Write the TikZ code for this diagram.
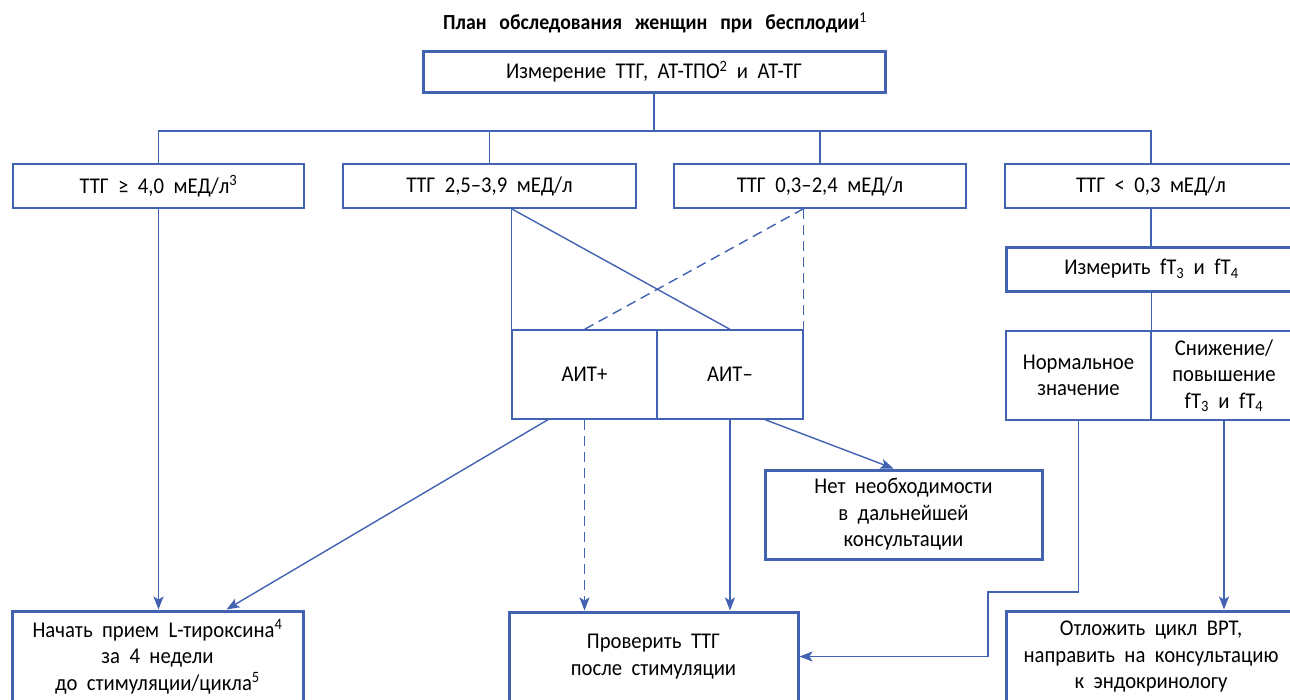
\documentclass[tikz,border=0pt]{standalone}
\usepackage{fontspec}
\setmainfont{Carlito}[FakeStretch=0.92]
\usetikzlibrary{arrows.meta,calc}
\definecolor{lc}{RGB}{66,98,178}
\newcommand{\bodyfont}{\fontsize{22.5}{26.5}\selectfont\spaceskip=0.42em plus 0.1em\relax}
\newcommand{\headfont}{\fontsize{21.5}{25}\selectfont\bfseries\spaceskip=0.6em plus 0.1em\relax}
\begin{document}
\begin{tikzpicture}[x=1pt,y=-1pt,
  every node/.style={font=\bodyfont, text=black, inner sep=0pt, align=center},
  thinbox/.style={draw=lc, line width=1.3pt},
  thickbox/.style={draw=lc, line width=3pt},
  conn/.style={draw=lc, line width=1.4pt},
  arr/.style={conn, -{Stealth[length=13pt,width=10pt,inset=3pt]}},
  dsh/.style={dash pattern=on 10pt off 6pt}]
\fill[white] (0,0) rectangle (1290,699);
\useasboundingbox (0,0) rectangle (1290,699);
\clip (0,0) rectangle (1290,699);

\node[font=\headfont] (title) at (655,23) {План обследования женщин при бесплодии\textsuperscript{\normalfont 1}};

\node[thickbox, minimum width=462pt, minimum height=41pt] (top) at (654,71.5) {Измерение ТТГ, АТ-ТПО\textsuperscript{2} и АТ-ТГ};

\node[thinbox, minimum width=291pt, minimum height=44pt] (b1) at (158.5,186) {ТТГ ≥ 4,0 мЕД/л\textsuperscript{3}};
\node[thinbox, minimum width=293pt, minimum height=44pt] (b2) at (489.5,186) {ТТГ 2,5–3,9 мЕД/л};
\node[thinbox, minimum width=292pt, minimum height=44pt] (b3) at (820,186) {ТТГ 0,3–2,4 мЕД/л};
\node[thinbox, minimum width=292pt, minimum height=44pt] (b4) at (1151,186) {ТТГ < 0,3 мЕД/л};

\node[thinbox, minimum width=145pt, minimum height=89pt] (aitp) at (584.5,374.5) {АИТ+};
\node[thinbox, minimum width=146pt, minimum height=89pt] (aitm) at (730,374.5) {АИТ–};

\node[thickbox, minimum width=291pt, minimum height=44pt] (meas) at (1151.5,269) {Измерить fT\textsubscript{3} и fT\textsubscript{4}};
\node[thinbox, minimum width=145pt, minimum height=89pt] (norm) at (1078.5,375.5) {Нормальное\\значение};
\node[thinbox, minimum width=146pt, minimum height=89pt] (chg) at (1224,375.5) {Снижение/\\повышение\\fT\textsubscript{3} и fT\textsubscript{4}};

\node[thickbox, minimum width=277pt, minimum height=89pt] (noneed) at (903.5,514.5) {Нет необходимости\\в дальнейшей\\консультации};

\node[thickbox, minimum width=291pt, minimum height=92pt] (start) at (157.5,657) {Начать прием L-тироксина\textsuperscript{4}\\за 4 недели\\до стимуляции/цикла\textsuperscript{5}};
\node[thickbox, minimum width=289pt, minimum height=89pt] (check) at (653.5,656.5) {Проверить ТТГ\\после стимуляции};
\node[thickbox, minimum width=290pt, minimum height=92pt] (delay) at (1151,657) {Отложить цикл ВРТ,\\направить на консультацию\\к эндокринологу};

% tree from top
\coordinate (hub) at (654,131);
\draw[conn] (top.south) -- (hub);
\draw[conn] (hub) -| (b1.north);
\draw[conn] (hub) -| (b2.north);
\draw[conn] (hub) -| (b3.north);
\draw[conn] (hub) -| (b4.north);

% b1 to start
\draw[arr] (b1.south) -- (b1.south |- start.north);

% b2, b3 to AIT
\coordinate (b2f) at (aitp.north west |- b2.south);
\coordinate (b3f) at (aitm.north east |- b3.south);
\draw[conn] (b2f) -- (aitp.north west);
\draw[conn] (b2f) -- (aitm.north);
\draw[conn, dsh] (b3f) -- (aitp.north);
\draw[conn, dsh] (b3f) -- (aitm.north east);

% from AIT
\draw[arr] ([xshift=-36.5pt]aitp.south) -- ([xshift=69pt]start.north);
\draw[arr, dsh] (aitp.south) -- (aitp.south |- check.north);
\draw[arr] (aitm.south) -- (aitm.south |- check.north);
\draw[arr] ([xshift=35pt]aitm.south) -- ([xshift=-10pt]noneed.north);

% right column
\draw[conn] (b4.south) -- (meas.north -| b4.south);
\draw[conn] (meas.south -| norm.north east) -- (norm.north east);
\coordinate (bend) at (988,592);
\draw[arr] (norm.south) |- (bend) |- (check.east);
\draw[arr] (chg.south) -- (chg.south |- delay.north);
\end{tikzpicture}
\end{document}
